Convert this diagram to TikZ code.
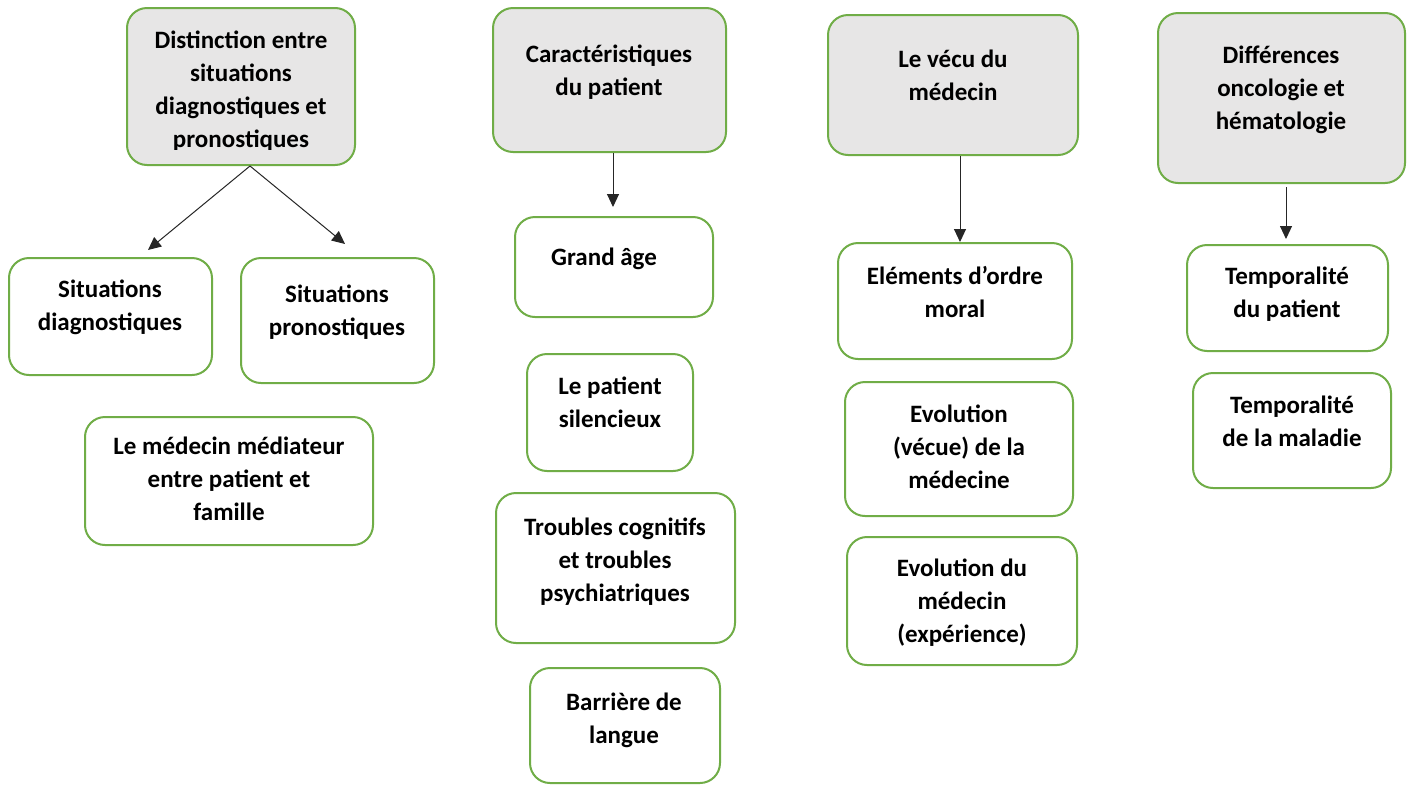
\documentclass[tikz,border=0pt]{standalone}
\usepackage{fontspec}
\setmainfont{Carlito}
\usetikzlibrary{arrows.meta,calc}
\definecolor{boxgreen}{RGB}{112,173,71}
\definecolor{headgray}{RGB}{231,230,230}
\begin{document}
\begin{tikzpicture}[x=1pt,y=-1pt,
  box/.style={draw=boxgreen, line width=2pt, rounded corners=20pt, fill=white, inner sep=0pt},
  headbox/.style={box, fill=headgray},
  txt/.style={anchor=base, align=center, inner sep=0pt, font=\fontsize{25}{33}\selectfont\bfseries},
  arr/.style={draw=black!85, line width=1pt, -{Triangle[width=12pt,length=13pt]}}]
\useasboundingbox (0,0) rectangle (1412,785);
\fill[white] (0,0) rectangle (1412,785);
\newcommand{\bx}[6]{\node[#1, minimum width=#4-#2, minimum height=#5-#3] (#6) at ({(#2+#4)/2},{(#3+#5)/2}) {};}
% column 1
\bx{headbox}{127}{8}{355}{165}{dist}
\begin{scope}
\clip (127,8) rectangle (355,149);
\node[txt] (tdist) at (241,147) {Distinction entre\\situations\\diagnostiques et\\pronostiques};
\end{scope}
\bx{box}{9}{258}{212}{375}{sitd}
\node[txt] (tsitd) at (110,330) {Situations\\diagnostiques};
\bx{box}{241}{258}{434}{383}{sitp}
\node[txt] (tsitp) at (337,335) {Situations\\pronostiques};
\bx{box}{85}{417}{373}{545}{medi}
\node[txt] (tmedi) at (229,520) {Le médecin médiateur\\entre patient et\\famille};
\draw[arr] ([xshift=9pt]dist.south) -- ([xshift=37.5pt,yshift=7pt]sitd.north);
\draw[arr] ([xshift=9pt]dist.south) -- ([xshift=7.5pt,yshift=13pt]sitp.north);
% column 2
\bx{headbox}{493}{8}{726}{152}{car}
\node[txt] (tcar) at (609,95) {Caractéristiques\\du patient};
\bx{box}{515}{217}{713}{317}{grand}
\node[txt] (tgrand) at (604,265) {Grand âge};
\bx{box}{527}{354}{693}{471}{sil}
\node[txt] (tsil) at (610,427) {Le patient\\silencieux};
\bx{box}{496}{493}{735}{643}{trou}
\node[txt] (ttrou) at (615,601) {Troubles cognitifs\\et troubles\\psychiatriques};
\bx{box}{530}{668}{720}{783}{barr}
\node[txt] (tbarr) at (624,743) {Barrière de\\langue};
\draw[arr] ([xshift=3.5pt]car.south) -- ([xshift=-1pt,yshift=9pt]grand.north);
% column 3
\bx{headbox}{828}{15}{1078}{155}{vecu}
\node[txt] (tvecu) at (953,100) {Le vécu du\\médecin};
\bx{box}{838}{243}{1072}{359}{elem}
\node[txt] (telem) at (955,317) {Eléments d’ordre\\moral};
\bx{box}{845}{382}{1073}{516}{evo}
\node[txt] (tevo) at (959,488) {Evolution\\(vécue) de la\\médecine};
\bx{box}{847}{537}{1077}{665}{evom}
\node[txt] (tevom) at (962,642) {Evolution du\\médecin\\(expérience)};
\draw[arr] ([xshift=7pt]vecu.south) -- ([xshift=7pt]vecu.south |- elem.north);
% column 4
\bx{headbox}{1158}{13}{1405}{183}{diff}
\node[txt] (tdiff) at (1281,129) {Différences\\oncologie et\\hématologie};
\bx{box}{1187}{245}{1388}{351}{tpat}
\node[txt] (ttpat) at (1287,317) {Temporalité\\du patient};
\bx{box}{1193}{373}{1391}{488}{tmal}
\node[txt] (ttmal) at (1292,446) {Temporalité\\de la maladie};
\draw[arr, shorten <=3pt, shorten >=5pt] ([xshift=4.5pt]diff.south) -- ([xshift=4.5pt]diff.south |- tpat.north);
\end{tikzpicture}
\end{document}
